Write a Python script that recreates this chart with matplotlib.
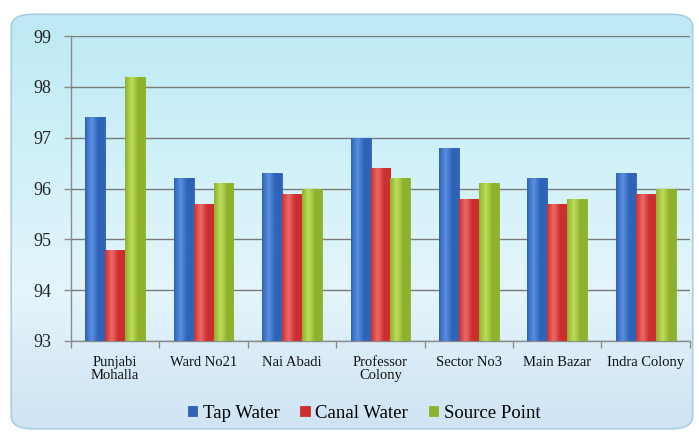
import numpy as np
import matplotlib
matplotlib.use("Agg")
import matplotlib.pyplot as plt
from matplotlib.patches import FancyBboxPatch
from matplotlib.colors import LinearSegmentedColormap

categories = ["Punjabi\nMohalla", "Ward No21", "Nai Abadi", "Professor\nColony",
              "Sector No3", "Main Bazar", "Indra Colony"]
tap_water = [97.4, 96.2, 96.3, 97.0, 96.8, 96.2, 96.3]
canal_water = [94.8, 95.7, 95.9, 96.4, 95.8, 95.7, 95.9]
source_point = [98.2, 96.1, 96.0, 96.2, 96.1, 95.8, 96.0]
series_names = ["Tap Water", "Canal Water", "Source Point"]
y_ticks = [93, 94, 95, 96, 97, 98, 99]

plt.rcParams['font.family'] = ['Liberation Serif', 'DejaVu Serif']

fig = plt.figure(figsize=(6.99, 4.34), dpi=100)
fig.patch.set_facecolor('white')

# background panel with gradient
bg_ax = fig.add_axes([0, 0, 1, 1], zorder=-10)
bg_ax.set_xlim(0, 1); bg_ax.set_ylim(0, 1); bg_ax.axis('off')
grad = np.linspace(0, 1, 256).reshape(-1, 1)
bg_cmap = LinearSegmentedColormap.from_list('bg', ['#cfe3f3', '#e4f5fb', '#d0f1f9', '#bde9f4'])
panel = FancyBboxPatch((0.016, 0.012), 0.975, 0.955, boxstyle="round,pad=0,rounding_size=0.03",
                       transform=bg_ax.transAxes, facecolor='none', edgecolor='#a8cfe0', linewidth=1.2)
bg_ax.add_patch(panel)
im = bg_ax.imshow(grad, extent=[0.016, 0.991, 0.012, 0.967], origin='lower', cmap=bg_cmap,
                  aspect='auto', zorder=0)
im.set_clip_path(panel)

ax = fig.add_axes([0.1016, 0.2143, 0.8854, 0.7027])
ax.patch.set_alpha(0)

x = np.arange(len(categories))
w = 0.225
colors = [('#2f63b8', '#5b8fe0'), ('#cc2f2f', '#ef6a6a'), ('#8fb22e', '#bfdc5c')]
data = [tap_water, canal_water, source_point]
handles = []
for i, (vals, (c_dark, c_light)) in enumerate(zip(data, colors)):
    bars = ax.bar(x + (i - 1) * w, np.array(vals) - 93, width=w, bottom=93, color=c_dark,
                  edgecolor=c_dark, linewidth=0.6, zorder=3, label=series_names[i])
    handles.append(bars)
    cm = LinearSegmentedColormap.from_list('b%d' % i, [c_dark, c_light, c_dark, c_dark])
    hgrad = np.linspace(0, 1, 64).reshape(1, -1)
    for b in bars:
        bx, by = b.get_x(), b.get_y()
        bw, bh = b.get_width(), b.get_height()
        gi = ax.imshow(hgrad, extent=[bx, bx + bw, by, by + bh], cmap=cm, aspect='auto',
                       zorder=3.5, interpolation='bilinear')
        gi.set_clip_path(b)

ax.set_xlim(-0.5, len(categories) - 0.5)
ax.set_ylim(93, 99)
ax.set_yticks(y_ticks)
ax.set_yticklabels([str(t) for t in y_ticks], fontsize=13, color='#222222')
ax.yaxis.grid(True, color='#7a7a7a', linewidth=1.0, zorder=1)
ax.set_axisbelow(True)
ax.tick_params(axis='y', length=5, width=1, color='#8a8a8a', pad=9)

ax.set_xticks(x)
ax.set_xticklabels(categories, fontsize=10.5, color='#111111', linespacing=0.95)
ax.set_xticks(np.arange(-0.5, len(categories)), minor=True)
ax.tick_params(axis='x', which='major', length=0, pad=11)
ax.tick_params(axis='x', which='minor', length=5, width=1, color='#8a8a8a')

for s in ['top', 'right']:
    ax.spines[s].set_visible(False)
for s in ['left', 'bottom']:
    ax.spines[s].set_color('#8a8a8a')
    ax.spines[s].set_linewidth(1.0)

leg = fig.legend(handles=handles, labels=series_names, loc='center', bbox_to_anchor=(0.521, 0.048),
                 ncol=3, frameon=False, fontsize=13.5, handlelength=0.5, handleheight=0.5,
                 handletextpad=0.3, columnspacing=1.1)

fig.savefig('out.png', dpi=100)
